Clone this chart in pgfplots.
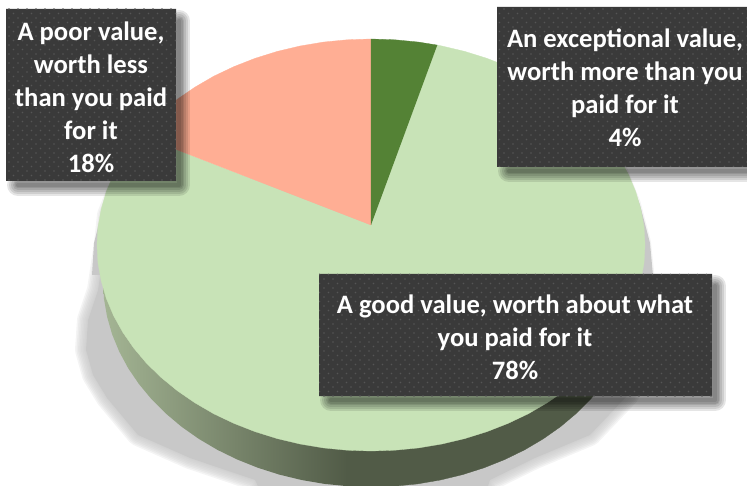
\documentclass[border=0pt]{standalone}
\usepackage{fontspec}
\setmainfont{Carlito}
\usepackage{pgfplots}
\usepackage{pgfplotstable}
\usetikzlibrary{patterns.meta}
\pgfplotsset{compat=1.18}

\definecolor{facegreen}{HTML}{C8E3B7}
\definecolor{darkgreen}{HTML}{548235}
\definecolor{salmon}{HTML}{FFAE94}
\definecolor{sidelight}{HTML}{A4B594}
\definecolor{sidedark}{HTML}{515B47}
\definecolor{shadowgrey}{HTML}{C8C8C8}
\definecolor{boxgrey}{HTML}{3A3A3A}
\definecolor{boxdot}{HTML}{555555}

% soft shadow under the pie, outline only
\pgfplotstableread{
x y
118 190
108 215
105 243
98 290
88 320
86 350
93 375
107 398
138 435
190 458
255 480
262 495
485 495
490 480
535 458
590 435
628 395
645 350
645 290
640 243
630 205
616 170
118 190
}\pieshadow

\pgfplotstableread{
x y
6 9
176 9
176 181
6 181
6 9
}\boxpoor
\pgfplotstableread{
x y
179 21
179 185
18 185
}\shadpoor
\pgfplotstableread{
x y
497 7
760 7
760 167
497 167
497 7
}\boxexc
\pgfplotstableread{
x y
760 171
509 171
}\shadexc
\pgfplotstableread{
x y
319 274
712 274
712 396
319 396
319 274
}\boxgood
\pgfplotstableread{
x y
715 286
715 400
331 400
}\shadgood

\tikzset{
  softedge/.style={draw=shadowgrey, line join=round, draw opacity=.2, line width=#1},
  boxedge/.style={draw=black, line join=round, line cap=round, draw opacity=.1, line width=#1},
  dots a/.style={pattern={Dots[distance=9pt,radius=.9pt]}, pattern color=boxdot, draw=none},
  dots b/.style={pattern={Dots[distance=9pt,radius=.9pt,xshift=4.5pt,yshift=4.5pt]}, pattern color=boxdot, draw=none},
  lab/.style={text=white, align=center, inner sep=0pt, font=\fontsize{26.6}{33}\selectfont\bfseries},
}

\newcommand{\labelbox}[2]{%
  \addplot[boxedge=22pt] table {#2};
  \addplot[boxedge=18pt] table {#2};
  \addplot[boxedge=14pt] table {#2};
  \addplot[boxedge=10pt] table {#2};
  \addplot[boxedge=7pt] table {#2};
  \addplot[boxedge=4pt] table {#2};
  \addplot[fill=boxgrey, draw=none] table {#1};
  \addplot[dots a] table {#1};
  \addplot[dots b] table {#1};
}

\begin{document}
\begin{tikzpicture}
\begin{axis}[
    width=747pt, height=486pt,
    scale only axis,
    xmin=0, xmax=747,
    ymin=0, ymax=486,
    y dir=reverse,
    axis lines=none,
    clip=true,
]
% shadow
\addplot[softedge=22pt] table {\pieshadow};
\addplot[softedge=19pt] table {\pieshadow};
\addplot[softedge=16pt] table {\pieshadow};
\addplot[softedge=13pt] table {\pieshadow};
\addplot[softedge=10pt] table {\pieshadow};
\addplot[softedge=7pt] table {\pieshadow};
\addplot[softedge=4pt] table {\pieshadow};
\addplot[softedge=2pt] table {\pieshadow};
\addplot[fill=shadowgrey, draw=none] table {\pieshadow};
% sharp slivers along the upper rim
\addplot[fill=shadowgrey, draw=none] coordinates {
 (112,183) (101,215) (94,243) (92,275) (110,275) (125,183)
};
\addplot[fill=shadowgrey, draw=none] coordinates {
 (626,170) (640,205) (650,243) (653,276) (635,276) (615,170)
};

% side of the disc, left part shaded
\addplot[left color=sidelight, right color=sidedark, draw=none] coordinates {
 (103,281) (104,299) (107.1,316.8) (112.1,334.3) (119.2,351.5) (128.1,368.1)
 (138.9,384) (151.5,399.2) (165.7,413.4) (181.5,426.7) (198.7,438.8) (217.3,449.8)
 (237,459.4) (257.7,467.7) (279.3,474.6) (301.6,480) (324.5,483.9) (347.6,486.2)
 (347.6,245) (103,245)
};
\addplot[fill=sidedark, draw=sidedark, line width=.3pt] coordinates {
 (346,486.1) (347.6,486.2) (371,487) (394.4,486.2) (417.5,483.9) (440.4,480) (462.7,474.6) (484.3,467.7)
 (505,459.4) (524.7,449.8) (543.3,438.8) (560.5,426.7) (576.3,413.4) (590.5,399.2)
 (603.1,384) (613.9,368.1) (622.8,351.5) (629.9,334.3) (634.9,316.8) (638,299)
 (639,281) (639,245) (346,245)
};

% 78 %
\addplot[fill=facegreen, draw=facegreen, line width=.3pt] coordinates {
 (371,225) (437.3,45.1) (441.9,46) (464.7,51.4) (486.8,58.3) (508,66.6) (528.2,76.2)
 (547.1,87.2) (564.7,99.3) (580.9,112.6) (595.5,126.8) (608.3,142) (619.3,157.9)
 (628.5,174.5) (635.7,191.7) (640.8,209.2) (644,227) (645,245) (644,263) (640.8,280.8)
 (635.7,298.3) (628.5,315.5) (619.3,332.1) (608.3,348) (595.5,363.2) (580.9,377.4)
 (564.7,390.7) (547.1,402.8) (528.2,413.8) (508,423.4) (486.8,431.7) (464.7,438.6)
 (441.9,444) (418.6,447.9) (394.9,450.2) (371,451) (347.1,450.2) (323.4,447.9)
 (300.1,444) (277.3,438.6) (255.2,431.7) (234,423.4) (213.8,413.8) (194.9,402.8)
 (177.3,390.7) (161.1,377.4) (146.5,363.2) (133.7,348) (122.7,332.1) (113.5,315.5)
 (106.3,298.3) (101.2,280.8) (98,263) (97,245) (98,227) (101.2,209.2) (106.3,191.7)
 (113.5,174.5) (122.7,157.9) (133.7,142) (139,135)
};
% 18 %
\addplot[fill=salmon, draw=salmon, line width=.3pt] coordinates {
 (371,225) (139,135) (146.5,126.8) (161.1,112.6) (177.3,99.3) (194.9,87.2) (213.8,76.2)
 (234,66.6) (255.2,58.3) (277.3,51.4) (300.1,46) (323.4,42.1) (347.1,39.8) (371,39)
};
% 4 %
\addplot[fill=darkgreen, draw=darkgreen, line width=.3pt] coordinates {
 (371,225) (371,39) (394.9,39.8) (418.6,42.1) (437.3,45.1)
};

\labelbox{\boxpoor}{\shadpoor}
\labelbox{\boxexc}{\shadexc}
\labelbox{\boxgood}{\shadgood}

\node[lab] at (axis cs:91,97) {A poor value,\\worth less\\than you paid\\for it\\18\%};
\node[lab] at (axis cs:625,88) {An exceptional value,\\worth more than you\\paid for it\\4\%};
\node[lab] at (axis cs:515,337) {A good value, worth about what\\you paid for it\\78\%};
\end{axis}
\pgfresetboundingbox
\path[use as bounding box] (0,0) rectangle (747pt,486pt);
\end{tikzpicture}
\end{document}
